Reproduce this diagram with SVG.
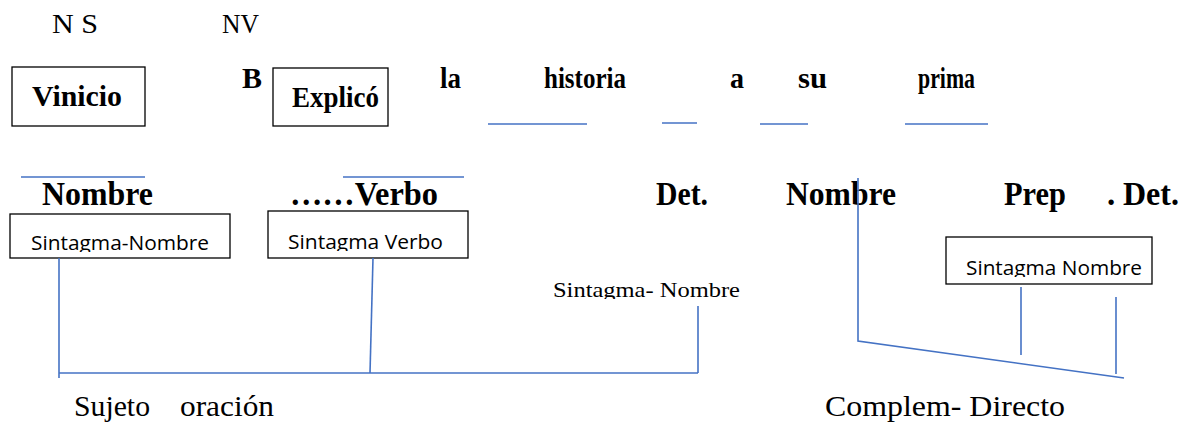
<svg xmlns="http://www.w3.org/2000/svg" width="1182" height="427" viewBox="0 0 1182 427">
<style>
.t{font-family:"Liberation Serif","Times New Roman",serif;fill:#000}
.b{font-weight:bold}
.c{font-family:"Open Sans","Noto Sans",sans-serif;fill:#000}
.box{fill:#fff;stroke:#000;stroke-width:1.3}
.ln{stroke:#4472C4;stroke-width:1.6;fill:none}
</style>
<defs>
<clipPath id="c1"><rect x="10" y="214" width="220" height="38"/></clipPath>
<clipPath id="c2"><rect x="268" y="211" width="200" height="40"/></clipPath>
<clipPath id="c3"><rect x="946" y="237" width="206" height="40"/></clipPath>
<clipPath id="c4"><rect x="540" y="270" width="220" height="29"/></clipPath>
</defs>
<rect width="1182" height="427" fill="#fff"/>
<g id="labels-top">
<text class="t" x="52" y="33" font-size="28" textLength="46" lengthAdjust="spacingAndGlyphs">N S</text>
<text class="t" x="222" y="33" font-size="28" textLength="37" lengthAdjust="spacingAndGlyphs">NV</text>
<text class="t b" x="242" y="88" font-size="29" textLength="20" lengthAdjust="spacingAndGlyphs">B</text>
</g>
<g id="node-vinicio">
<rect class="box" x="12" y="67" width="133" height="59"/>
<text class="t b" x="32" y="106" font-size="29" textLength="90" lengthAdjust="spacingAndGlyphs">Vinicio</text>
</g>
<g id="node-explico">
<rect class="box" x="273" y="68" width="115" height="58"/>
<text class="t b" x="292" y="107" font-size="29" textLength="87" lengthAdjust="spacingAndGlyphs">Explicó</text>
</g>
<g id="words">
<text class="t b" x="440" y="88" font-size="29" textLength="21" lengthAdjust="spacingAndGlyphs">la</text>
<text class="t b" x="544" y="88" font-size="29" textLength="82" lengthAdjust="spacingAndGlyphs">historia</text>
<text class="t b" x="730" y="88" font-size="29" textLength="14" lengthAdjust="spacingAndGlyphs">a</text>
<text class="t b" x="798" y="88" font-size="29" textLength="29" lengthAdjust="spacingAndGlyphs">su</text>
<text class="t b" x="918" y="88" font-size="29" textLength="57" lengthAdjust="spacingAndGlyphs">prima</text>
</g>
<g id="categories">
<text class="t b" x="42" y="205" font-size="33" textLength="111" lengthAdjust="spacingAndGlyphs">Nombre</text>
<text class="t b" x="290" y="205" font-size="33" textLength="148" lengthAdjust="spacingAndGlyphs">……Verbo</text>
<text class="t b" x="656" y="205" font-size="33" textLength="52" lengthAdjust="spacingAndGlyphs">Det.</text>
<text class="t b" x="786" y="205" font-size="33" textLength="110" lengthAdjust="spacingAndGlyphs">Nombre</text>
<text class="t b" x="1004" y="205" font-size="33" textLength="62" lengthAdjust="spacingAndGlyphs">Prep</text>
<text class="t b" x="1107" y="205" font-size="33">. <tspan x="1123" textLength="56" lengthAdjust="spacingAndGlyphs">Det.</tspan></text>
</g>
<g id="node-sn1">
<rect class="box" x="10" y="214" width="220" height="44"/>
<text class="c" x="31" y="250" font-size="20" textLength="178" lengthAdjust="spacingAndGlyphs" clip-path="url(#c1)">Sintagma-Nombre</text>
</g>
<g id="node-sv">
<rect class="box" x="268" y="211" width="200" height="47"/>
<text class="c" x="288" y="249" font-size="20" textLength="155" lengthAdjust="spacingAndGlyphs" clip-path="url(#c2)">Sintagma Verbo</text>
</g>
<g id="node-sn2">
<rect class="box" x="946" y="237" width="206" height="47"/>
<text class="c" x="966" y="275" font-size="20" textLength="176" lengthAdjust="spacingAndGlyphs" clip-path="url(#c3)">Sintagma Nombre</text>
</g>
<g id="node-sn3">
<text class="t" x="553" y="297" font-size="22" textLength="187" lengthAdjust="spacingAndGlyphs" clip-path="url(#c4)">Sintagma- Nombre</text>
</g>
<g id="bottom-labels">
<text class="t" x="74" y="416" font-size="30"><tspan textLength="76" lengthAdjust="spacingAndGlyphs">Sujeto</tspan> <tspan x="180" textLength="94" lengthAdjust="spacingAndGlyphs">oración</tspan></text>
<text class="t" x="825" y="416" font-size="30" textLength="240" lengthAdjust="spacingAndGlyphs">Complem- Directo</text>
</g>
<g id="connectors">
<line class="ln" x1="488" y1="124" x2="587" y2="124"/>
<line class="ln" x1="662" y1="123" x2="697" y2="123"/>
<line class="ln" x1="760" y1="124" x2="808" y2="124"/>
<line class="ln" x1="905" y1="124" x2="988" y2="124"/>
<line class="ln" x1="21" y1="177" x2="145" y2="177"/>
<line class="ln" x1="343" y1="177" x2="464" y2="177"/>
<line class="ln" x1="59" y1="258" x2="59" y2="378"/>
<line class="ln" x1="59" y1="373" x2="698" y2="373"/>
<line class="ln" x1="373" y1="258" x2="370" y2="373"/>
<line class="ln" x1="698" y1="306" x2="698" y2="373"/>
<polyline class="ln" points="858,178 858,341 1124,378"/>
<line class="ln" x1="1021" y1="287" x2="1021" y2="355"/>
<line class="ln" x1="1116" y1="297" x2="1116" y2="374"/>
</g>
</svg>
